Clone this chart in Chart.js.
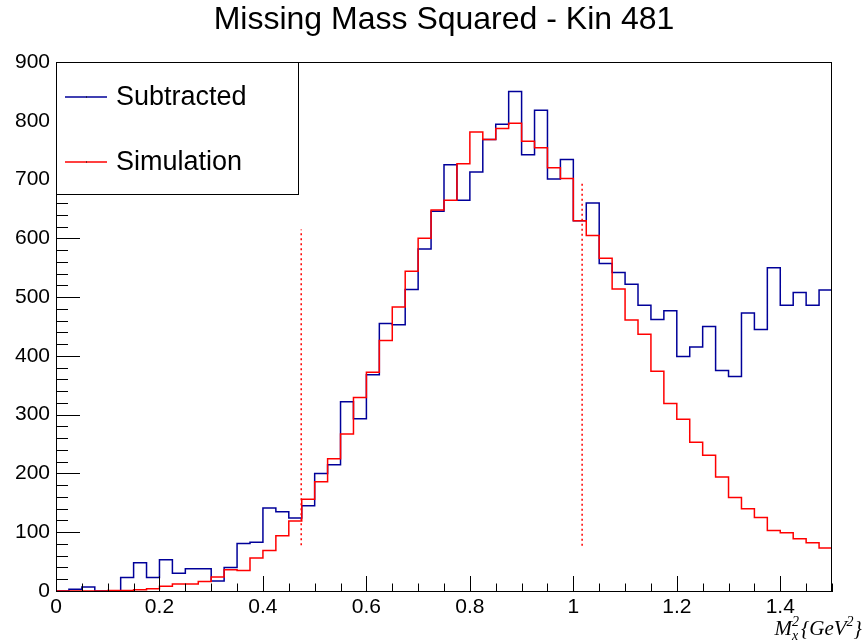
<!DOCTYPE html>
<html>
<head>
  <title>Missing Mass Squared - Kin 481</title>
  <script src="https://cdn.jsdelivr.net/npm/chart.js"></script>
  <style>
    body { margin: 0; background: #fff; }
  </style>
</head>
<body>
  <canvas id="mm2-chart" width="867" height="642"></canvas>
  <script>
    // histogram bins: 60 bins of 0.025 from 0 to 1.5
    var binEdges = Array.from({ length: 61 }, function (_, i) { return +(i * 0.025).toFixed(3); });

    var subtracted = [
      0, 3, 7, 0, 0, 23, 48, 23, 53, 30,
      38, 38, 17, 40, 81, 83, 141, 135, 124, 145,
      200, 215, 322, 293, 368, 455, 453, 513, 582, 646,
      725, 665, 713, 768, 794, 850, 742, 818, 701, 734,
      630, 660, 557, 542, 522, 486, 462, 477, 399, 415,
      450, 375, 365, 473, 445, 550, 486, 508, 486, 512
    ];
    var simulation = [
      0, 0, 0, 0, 1, 1, 2, 4, 8, 12,
      12, 16, 24, 36, 35, 56, 69, 94, 119, 156,
      186, 225, 267, 329, 372, 426, 483, 544, 600, 648,
      665, 727, 781, 768, 787, 796, 765, 754, 720, 702,
      630, 605, 566, 514, 461, 437, 374, 319, 292, 253,
      231, 194, 159, 140, 125, 103, 99, 89, 82, 73
    ];

    // cut lines (dotted)
    var cutX = [0.474, 1.017];
    var cutYLow = [78, 77];
    var cutYHigh = [615, 697];

    var xTickValues = [0, 0.2, 0.4, 0.6, 0.8, 1, 1.2, 1.4];
    var yTickValues = [0, 100, 200, 300, 400, 500, 600, 700, 800, 900];

    var FONT = '"Liberation Sans", Arial, Helvetica, sans-serif';
    var BLUE = '#000099';
    var RED = '#ff0000';

    function histPoints(values) {
      var pts = values.map(function (v, i) { return { x: binEdges[i], y: v }; });
      pts.push({ x: binEdges[binEdges.length - 1], y: values[values.length - 1] });
      return pts;
    }

    function cutLine(i) {
      return {
        label: 'cut' + i,
        data: [{ x: cutX[i], y: cutYLow[i] }, { x: cutX[i], y: cutYHigh[i] }],
        borderColor: RED,
        borderWidth: 1.5,
        borderDash: [2, 3],
        pointRadius: 0,
        fill: false,
        order: 2
      };
    }

    var rootStyle = {
      id: 'rootStyle',
      beforeDraw: function (chart) {
        var c = chart.ctx;
        c.save();
        c.fillStyle = '#fff';
        c.fillRect(0, 0, chart.width, chart.height);
        c.restore();
      },
      afterDraw: function (chart) {
        var c = chart.ctx, a = chart.chartArea;
        var xs = chart.scales.x, ys = chart.scales.y;
        c.save();

        // frame
        c.strokeStyle = '#000';
        c.lineWidth = 1;
        c.strokeRect(a.left + 0.5, a.top + 0.5, a.right - a.left - 1, a.bottom - a.top);

        // y ticks (inside)
        c.beginPath();
        for (var v = 0; v <= 900; v += 20) {
          var py = Math.round(ys.getPixelForValue(v)) + 0.5;
          var len = (v % 100 === 0) ? 24 : 12;
          c.moveTo(a.left, py);
          c.lineTo(a.left + len, py);
        }
        // x ticks (inside)
        for (var k = 0; k <= 30; k++) {
          var xv = k * 0.05;
          var px = Math.round(xs.getPixelForValue(xv)) + 0.5;
          var l2 = (k % 4 === 0) ? 15 : 7.5;
          c.moveTo(px, a.bottom);
          c.lineTo(px, a.bottom - l2);
        }
        c.stroke();

        // title
        c.fillStyle = '#000';
        c.font = '32px ' + FONT;
        c.textAlign = 'center';
        c.textBaseline = 'alphabetic';
        c.fillText('Missing Mass Squared - Kin 481', 444, 29);

        // legend
        var lx = a.left, ly = a.top, lw = 242, lh = 132;
        c.fillStyle = '#fff';
        c.fillRect(lx, ly, lw, lh);
        c.strokeStyle = '#000';
        c.lineWidth = 1;
        c.strokeRect(lx + 0.5, ly + 0.5, lw, lh);
        var entries = [['Subtracted', BLUE, 97], ['Simulation', RED, 162]];
        entries.forEach(function (e) {
          c.strokeStyle = e[1];
          c.lineWidth = 1.5;
          c.beginPath();
          c.moveTo(65, e[2]);
          c.lineTo(107, e[2]);
          c.stroke();
          c.fillStyle = '#000';
          c.fillRect(86, e[2] - 0.5, 1, 1);
          c.font = '27px ' + FONT;
          c.textAlign = 'left';
          c.textBaseline = 'middle';
          c.fillText(e[0], 116, e[2] + 1);
        });

        // x axis title: M_x^2{GeV^2}
        var serif = '"Liberation Serif", "Times New Roman", serif';
        var big = 'italic 21px ' + serif, small = 'italic 14px ' + serif;
        var parts = [
          ['M', big, 0], ['x', small, 5], ['2', small, -9, true],
          ['{GeV', big, 0], ['2', small, -9], ['}', big, 0]
        ];
        c.textAlign = 'left';
        c.textBaseline = 'alphabetic';
        var total = 0, widths = [];
        parts.forEach(function (p) {
          c.font = p[1];
          var w = c.measureText(p[0]).width;
          widths.push(w);
          if (!p[3]) total += w;
        });
        // subscript and superscript of M share the same column
        total += Math.max(0, widths[2] - widths[1]) + 2;
        var cx = 862 - total, base = 635;
        parts.forEach(function (p, i) {
          c.font = p[1];
          c.fillText(p[0], cx, base + p[2]);
          if (i === 1) return;
          if (i === 2) { cx += Math.max(widths[1], widths[2]) + 2; return; }
          cx += widths[i];
        });
        c.restore();
      }
    };

    var ctx = document.getElementById('mm2-chart').getContext('2d');
    var chart = new Chart(ctx, {
      type: 'line',
      data: {
        datasets: [
          {
            label: 'Subtracted',
            data: histPoints(subtracted),
            borderColor: BLUE,
            borderWidth: 1.5,
            stepped: 'before',
            pointRadius: 0,
            fill: false,
            order: 1
          },
          {
            label: 'Simulation',
            data: histPoints(simulation),
            borderColor: RED,
            borderWidth: 1.5,
            stepped: 'before',
            pointRadius: 0,
            fill: false,
            order: 0
          },
          cutLine(0),
          cutLine(1)
        ]
      },
      options: {
        responsive: false,
        animation: false,
        layout: { padding: { top: 62, right: 35, left: 0, bottom: 0 } },
        plugins: {
          legend: { display: false },
          tooltip: { enabled: false },
          title: { display: false }
        },
        scales: {
          x: {
            type: 'linear',
            min: 0,
            max: 1.5,
            afterBuildTicks: function (s) { s.ticks = xTickValues.map(function (v) { return { value: v }; }); },
            afterFit: function (s) { s.height = 51; },
            grid: { display: false, drawTicks: false },
            border: { display: true, color: '#000', width: 1 },
            ticks: {
              color: '#000',
              font: { family: FONT, size: 21 },
              padding: 4,
              maxRotation: 0,
              autoSkip: false,
              callback: function (v) { return String(v); }
            }
          },
          y: {
            min: 0,
            max: 900,
            afterBuildTicks: function (s) { s.ticks = yTickValues.map(function (v) { return { value: v }; }); },
            afterFit: function (s) { s.width = 56; },
            grid: { display: false, drawTicks: false },
            border: { display: true, color: '#000', width: 1 },
            ticks: {
              color: '#000',
              font: { family: FONT, size: 21 },
              padding: 6,
              autoSkip: false,
              callback: function (v) { return String(v); }
            }
          }
        }
      },
      plugins: [rootStyle]
    });
  </script>
</body>
</html>
